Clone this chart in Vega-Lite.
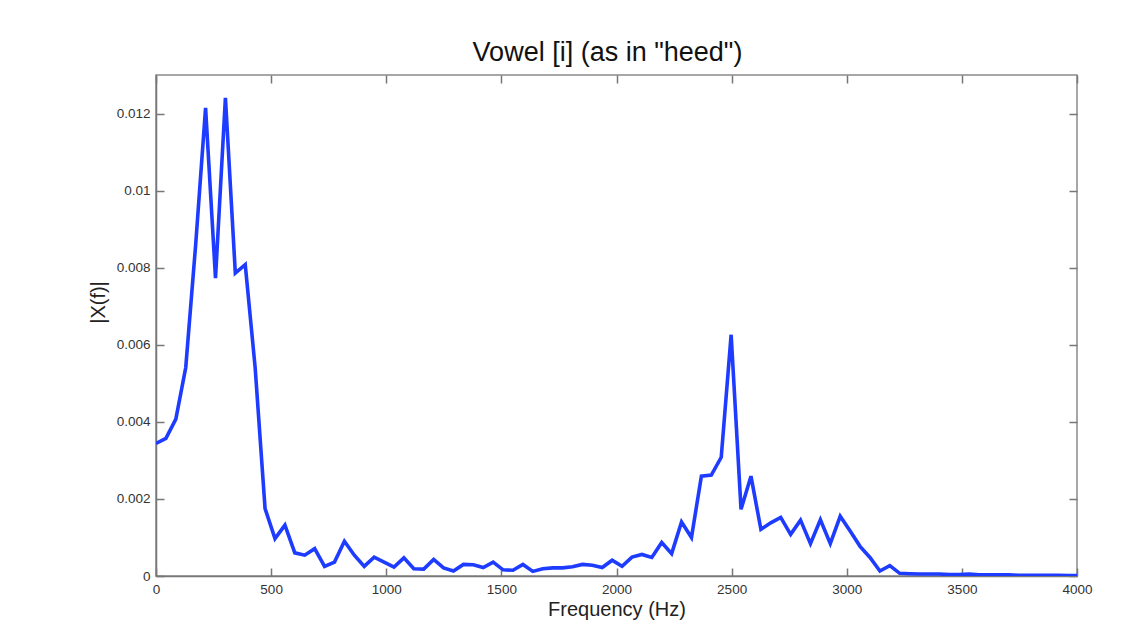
{
  "$schema": "https://vega.github.io/schema/vega-lite/v6.json",
  "width": 921,
  "height": 501,
  "autosize": {"type": "none"},
  "padding": {"left": 156, "top": 75, "right": 50, "bottom": 55},
  "background": "white",
  "title": {"text": "Vowel [i] (as in \"heed\")", "fontSize": 27, "font": "Liberation Sans", "fontWeight": "normal", "color": "#111111", "offset": 7, "anchor": "middle", "dx": -9},
  "config": {
    "view": {"stroke": "#8a8a8a", "strokeWidth": 1.5},
    "axis": {
      "domainColor": "#777777", "domainWidth": 1.5,
      "tickColor": "#777777", "tickWidth": 1.5, "tickSize": -8,
      "labelFont": "Liberation Sans", "labelFontSize": 13.5, "labelColor": "#333333", "labelPadding": 14, "labelFlush": false,
      "titleFont": "Liberation Sans", "titleFontSize": 20, "titleFontWeight": "normal", "titleColor": "#222222",
      "grid": false
    }
  },
  "data": {"values": [
    {"f": 0, "m": 0.00344}, {"f": 43.07, "m": 0.00357}, {"f": 86.13, "m": 0.00407}, {"f": 129.2, "m": 0.00541},
    {"f": 172.3, "m": 0.0086}, {"f": 215.3, "m": 0.01215}, {"f": 258.4, "m": 0.00773}, {"f": 301.5, "m": 0.01241},
    {"f": 344.5, "m": 0.00786}, {"f": 387.6, "m": 0.00808}, {"f": 430.7, "m": 0.0054}, {"f": 473.7, "m": 0.00175},
    {"f": 516.8, "m": 0.00097}, {"f": 559.9, "m": 0.00132}, {"f": 602.9, "m": 0.0006}, {"f": 646.0, "m": 0.00054},
    {"f": 689.1, "m": 0.00071}, {"f": 732.1, "m": 0.00025}, {"f": 775.2, "m": 0.00036}, {"f": 818.3, "m": 0.0009},
    {"f": 861.3, "m": 0.00054}, {"f": 904.4, "m": 0.00025}, {"f": 947.5, "m": 0.00049}, {"f": 990.5, "m": 0.00036},
    {"f": 1033.6, "m": 0.00023}, {"f": 1076.7, "m": 0.00047}, {"f": 1119.7, "m": 0.00019}, {"f": 1162.8, "m": 0.00018},
    {"f": 1205.9, "m": 0.00043}, {"f": 1248.9, "m": 0.00021}, {"f": 1292.0, "m": 0.00013}, {"f": 1335.1, "m": 0.0003},
    {"f": 1378.1, "m": 0.00029}, {"f": 1421.2, "m": 0.00022}, {"f": 1464.3, "m": 0.00036}, {"f": 1507.3, "m": 0.00016},
    {"f": 1550.4, "m": 0.00015}, {"f": 1593.5, "m": 0.0003}, {"f": 1636.5, "m": 0.00012}, {"f": 1679.6, "m": 0.00019},
    {"f": 1722.7, "m": 0.00021}, {"f": 1765.7, "m": 0.00021}, {"f": 1808.8, "m": 0.00024}, {"f": 1851.9, "m": 0.0003},
    {"f": 1894.9, "m": 0.00028}, {"f": 1938.0, "m": 0.00022}, {"f": 1981.1, "m": 0.00041}, {"f": 2024.1, "m": 0.00025},
    {"f": 2067.2, "m": 0.00049}, {"f": 2110.3, "m": 0.00056}, {"f": 2153.3, "m": 0.00048}, {"f": 2196.4, "m": 0.00087},
    {"f": 2239.5, "m": 0.00058}, {"f": 2282.5, "m": 0.0014}, {"f": 2325.6, "m": 0.001}, {"f": 2368.7, "m": 0.00259},
    {"f": 2411.7, "m": 0.00262}, {"f": 2454.8, "m": 0.00308}, {"f": 2497.9, "m": 0.00626}, {"f": 2540.9, "m": 0.00173},
    {"f": 2584.0, "m": 0.00259}, {"f": 2627.1, "m": 0.00121}, {"f": 2670.1, "m": 0.00138}, {"f": 2713.2, "m": 0.00152},
    {"f": 2756.3, "m": 0.00108}, {"f": 2799.3, "m": 0.00145}, {"f": 2842.4, "m": 0.00084}, {"f": 2885.5, "m": 0.00146},
    {"f": 2928.5, "m": 0.00084}, {"f": 2971.6, "m": 0.00155}, {"f": 3014.7, "m": 0.00117}, {"f": 3057.7, "m": 0.00077},
    {"f": 3100.8, "m": 0.00048}, {"f": 3143.9, "m": 0.00013}, {"f": 3186.9, "m": 0.00027}, {"f": 3230.0, "m": 0.00007},
    {"f": 3273.1, "m": 0.00006}, {"f": 3316.1, "m": 0.00005}, {"f": 3359.2, "m": 0.00005}, {"f": 3402.3, "m": 0.00005},
    {"f": 3445.3, "m": 0.00004}, {"f": 3488.4, "m": 0.00004}, {"f": 3531.5, "m": 0.00005}, {"f": 3574.5, "m": 0.00003},
    {"f": 3617.6, "m": 0.00003}, {"f": 3660.7, "m": 0.00003}, {"f": 3703.7, "m": 0.00003}, {"f": 3746.8, "m": 0.00002},
    {"f": 3789.9, "m": 0.00002}, {"f": 3832.9, "m": 0.00002}, {"f": 3876.0, "m": 0.00002}, {"f": 3919.1, "m": 0.00002},
    {"f": 3962.1, "m": 0.00001}, {"f": 4005.2, "m": 0.00001}
  ]},
  "layer": [
    {
      "mark": {"type": "line", "color": "#1e3cff", "strokeWidth": 3.6, "clip": true, "strokeJoin": "miter"},
      "encoding": {
        "x": {"field": "f", "type": "quantitative", "scale": {"domain": [0, 4000], "nice": false},
              "axis": {"orient": "bottom", "values": [0, 500, 1000, 1500, 2000, 2500, 3000, 3500, 4000], "format": "d", "title": "Frequency (Hz)", "titlePadding": 4}},
        "y": {"field": "m", "type": "quantitative", "scale": {"domain": [0, 0.013], "nice": false},
              "axis": {"orient": "left", "values": [0, 0.002, 0.004, 0.006, 0.008, 0.01, 0.012], "format": "~g", "title": "|X(f)|", "titlePadding": 8, "titleY": 227}}
      }
    },
    {
      "mark": {"type": "line", "strokeOpacity": 0, "clip": true},
      "encoding": {
        "x": {"field": "f", "type": "quantitative", "scale": {"domain": [0, 4000], "nice": false},
              "axis": {"orient": "top", "values": [0, 500, 1000, 1500, 2000, 2500, 3000, 3500, 4000], "labels": false, "title": null, "domain": false}},
        "y": {"field": "m", "type": "quantitative", "scale": {"domain": [0, 0.013], "nice": false},
              "axis": {"orient": "right", "values": [0, 0.002, 0.004, 0.006, 0.008, 0.01, 0.012], "labels": false, "title": null, "domain": false}}
      }
    }
  ],
  "resolve": {"axis": {"x": "independent", "y": "independent"}}
}
